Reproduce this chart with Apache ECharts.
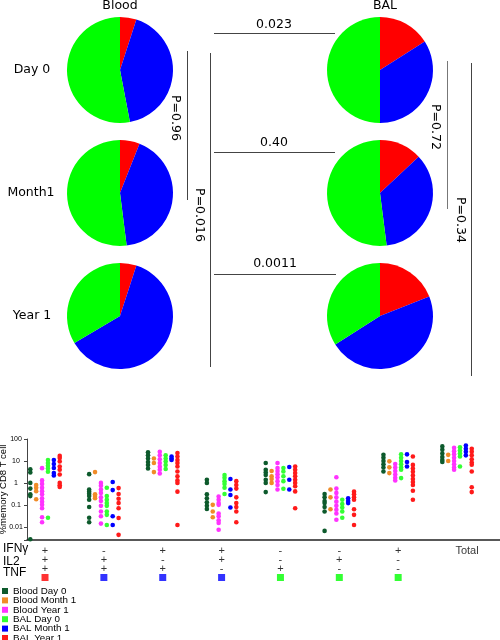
<!DOCTYPE html>
<html><head><meta charset="utf-8">
<script src="https://cdn.jsdelivr.net/npm/echarts@6/dist/echarts.min.js"></script>
<style>html,body{margin:0;padding:0;background:#fff}#c{width:500px;height:640px}</style>
</head><body><div id="c"></div>
<script>
// ---------- DATA ----------
// Pie slices: [3 functions (red), 2 functions (blue), 1 function (green)]
const sliceNames = ['3 functions', '2 functions', '1 function'];
const pieBloodDay0   = [5, 42, 53];
const pieBloodMonth1 = [6, 42, 52];
const pieBloodYear1  = [5, 61.5, 33.5];
const pieBALDay0     = [16, 34, 50];
const pieBALMonth1   = [13, 35, 52];
const pieBALYear1    = [19, 47, 34];
const columnTitles = ['Blood', 'BAL'];
const rowTitles = ['Day 0', 'Month1', 'Year 1'];
const pBetween = ['0.023', '0.40', '0.0011'];
const pBlood = ['P=0.96', 'P=0.016'];
const pBAL = ['P=0.72', 'P=0.34'];

// Scatter: categories (cytokine combos) + Total
const groupNames = ['IFNγ+IL2+TNF+', 'IFNγ-IL2+TNF+', 'IFNγ+IL2-TNF+', 'IFNγ+IL2+TNF-',
                    'IFNγ-IL2-TNF+', 'IFNγ-IL2+TNF-', 'IFNγ+IL2-TNF-', 'Total'];
const ifng = ['+', '-', '+', '+', '-', '-', '+'];
const il2  = ['+', '+', '-', '+', '-', '+', '-'];
const tnf  = ['+', '+', '+', '-', '+', '-', '-'];
const nFunctions = [3, 2, 2, 2, 1, 1, 1];
const rowNames = ['IFNγ', 'IL2', 'TNF', ''];
const yTickLabels = ['0.01', '0.1', '1', '10', '100'];
const seriesNames = ['Blood Day 0', 'Blood Month 1', 'Blood Year 1', 'BAL Day 0', 'BAL Month 1', 'BAL Year 1'];

const bloodDay0 = [
  [4.2, 3.0, 1.0, 0.55, 0.3, 0.25, 0.0027],
  [2.5, 0.5, 0.4, 0.32, 0.25, 0.17, 0.08, 0.026, 0.016],
  [25, 18, 13, 9, 6.5, 4.5],
  [1.4, 1.0, 0.3, 0.2, 0.13, 0.09, 0.065],
  [8, 4, 3, 2.3, 1.4, 1.0, 0.38],
  [0.31, 0.22, 0.15, 0.12, 0.08, 0.05, 0.0065],
  [19, 14, 10, 7, 5, 3.3],
  [46, 32, 22, 15, 11, 8.9]
];
const bloodMonth1 = [
  [0.8, 0.6, 0.42, 0.18],
  [3.1, 0.3, 0.25, 0.2],
  [13, 8, 3.1],
  [0.1, 0.05, 0.027],
  [3.5, 2.0, 1.5, 1.0],
  [0.5, 0.22, 0.063],
  [9.6, 5.1, 2.8],
  [19, 10]
];
const bloodYear1 = [
  [4.7, 1.3, 0.9, 0.6, 0.42, 0.3, 0.2, 0.14, 0.1, 0.07, 0.027, 0.016],
  [1.0, 0.75, 0.5, 0.35, 0.22, 0.15, 0.09, 0.05, 0.03, 0.014],
  [26, 18, 12, 8, 5.5, 4, 2.7],
  [0.24, 0.17, 0.12, 0.1, 0.04, 0.03, 0.02, 0.015, 0.0073],
  [8, 4.8, 3.5, 2.5, 1.8, 1.2, 0.8, 0.5],
  [1.8, 0.55, 0.35, 0.22, 0.14, 0.09, 0.06, 0.04, 0.021],
  [7.3, 5, 3.5, 2.4, 1.7, 1.3],
  [40, 28, 20, 14, 10, 7, 5, 4]
];
const balDay0 = [
  [11, 8, 6, 4.5, 3.2, 0.026],
  [0.6, 0.25, 0.17, 0.12, 0.09, 0.05, 0.035, 0.012],
  [18, 13, 9.5, 6.5, 4.3],
  [2.3, 1.7, 1.2, 0.9, 0.6, 0.31],
  [4.8, 3.3, 2, 1.2, 0.54],
  [0.17, 0.11, 0.075, 0.05, 0.026],
  [20, 14, 10, 7, 5, 4, 1.65],
  [42, 30, 22, 16, 5.6]
];
const balMonth1 = [
  [11, 7.3, 4.8, 2.8, 2.2],
  [1.1, 0.47, 0.03, 0.012],
  [16, 13, 11],
  [1.5, 0.5, 0.28, 0.076],
  [5.3, 1.4, 0.5],
  [0.2, 0.15, 0.12],
  [20, 9, 5.6],
  [50, 36, 26, 18]
];
const balYear1 = [
  [17, 13.5, 9.5, 5.6, 4, 2.4, 1.0, 0.78, 0.65],
  [0.58, 0.31, 0.19, 0.12, 0.07, 0.025, 0.0043],
  [23, 16, 11, 8, 5.6, 3.3, 2, 1.3, 1.0, 0.4, 0.012],
  [1.2, 0.8, 0.55, 0.22, 0.12, 0.08, 0.05, 0.016],
  [5.6, 4, 2.8, 2, 1.4, 1, 0.7, 0.41, 0.07],
  [0.4, 0.3, 0.22, 0.17, 0.063, 0.035, 0.012],
  [16, 6.6, 4.5, 3.2, 2.2, 1.5, 1.1, 0.8, 0.44, 0.17],
  [36, 26, 18, 12, 8.5, 6.7, 3.3, 0.63, 0.38]
];

// ---------- STYLE ----------
const sliceColors = ['#ff0000', '#0000ff', '#00ff00'];
const funcColor = {3: '#ff0000', 2: '#0000ff', 1: '#00ff00'};
const seriesColors = ['#0d5a2c', '#f08c28', '#ff33ff', '#33ff33', '#0000ff', '#ff1a1a'];
const allSeries = [bloodDay0, bloodMonth1, bloodYear1, balDay0, balMonth1, balYear1];
const SANS = 'Liberation Sans, Arial, sans-serif';
const TOPF = 'DejaVu Sans, Verdana, sans-serif';

const chart = echarts.init(document.getElementById('c'), null, {renderer: 'canvas'});

function pie(vals, cx, cy) {
  return {
    type: 'pie', center: [cx, cy], radius: 53, startAngle: 90, clockwise: true,
    silent: true, label: {show: false}, labelLine: {show: false},
    itemStyle: {borderWidth: 0},
    data: vals.map((v, i) => ({name: sliceNames[i], value: v, itemStyle: {color: sliceColors[i]}}))
  };
}

const series = [];
allSeries.forEach((arr, s) => {
  const data = [];
  arr.forEach((vals, g) => vals.forEach(v => data.push([g + (s - 2.5) * 0.1, v])));
  series.push({
    name: seriesNames[s], type: 'scatter', xAxisIndex: 0, yAxisIndex: 0,
    symbol: 'circle', symbolSize: 4.6, itemStyle: {color: seriesColors[s], opacity: 1},
    data: data, silent: true
  });
});

// sign rows
const signData = [];
[ifng, il2, tnf].forEach((row, r) => row.forEach((sgn, g) => signData.push({name: sgn, value: [g, r]})));
signData.push({name: groupNames[7], value: [7, 0], label: {padding: [0, 0, 3, 20], fontSize: 11}});
series.push({
  type: 'scatter', xAxisIndex: 1, yAxisIndex: 1, symbolSize: 1, itemStyle: {color: 'rgba(0,0,0,0)'}, silent: true,
  label: {show: true, position: 'inside', formatter: '{b}', color: '#000', fontSize: 11, fontFamily: SANS},
  labelLayout: {hideOverlap: false},
  data: signData
});
series.push({
  type: 'scatter', xAxisIndex: 1, yAxisIndex: 1, symbol: 'rect', symbolSize: 7, silent: true,
  data: nFunctions.map((n, g) => ({value: [g, 3], itemStyle: {color: funcColor[n]}}))
});

// pies
series.push(pie(pieBloodDay0, 120, 70), pie(pieBloodMonth1, 120, 193), pie(pieBloodYear1, 120, 316));
series.push(pie(pieBALDay0, 380, 70), pie(pieBALMonth1, 380, 193), pie(pieBALYear1, 380, 316));

function txt(t, x, y, size, rot, font) {
  return {type: 'text', x: x, y: y, rotation: rot || 0, silent: true,
    style: {text: t, font: size + 'px ' + (font || TOPF), fill: '#000',
      textAlign: 'center', textVerticalAlign: 'middle', align: 'center', verticalAlign: 'middle'}};
}
function line(x1, y1, x2, y2, c) {
  return {type: 'line', silent: true, shape: {x1: x1, y1: y1, x2: x2, y2: y2},
    style: {stroke: c || '#444', lineWidth: 1}};
}
const R = -Math.PI / 2;
const graphic = [
  txt(columnTitles[0], 120, 6, 12.5), txt(columnTitles[1], 385, 6, 12.5),
  txt(rowTitles[0], 32, 70, 12.5), txt(rowTitles[1], 31, 193, 12.5), txt(rowTitles[2], 32, 316, 12.5),
  line(214, 33.5, 335, 33.5), txt(pBetween[0], 274, 25, 12.5),
  line(214, 152.5, 335, 152.5), txt(pBetween[1], 274, 143, 12.5),
  line(214, 274.5, 336, 274.5), txt(pBetween[2], 275, 264, 12.5),
  line(187.5, 51, 187.5, 200), txt(pBlood[0], 175, 118, 12.5, R),
  line(210.5, 53, 210.5, 367), txt(pBlood[1], 199, 215, 12.5, R),
  line(447.5, 61, 447.5, 209, '#777'), txt(pBAL[0], 435, 127, 12.5, R),
  line(471.5, 63, 471.5, 376), txt(pBAL[1], 460, 220, 12.5, R)
];

chart.setOption({
  animation: false,
  backgroundColor: '#fff',
  textStyle: {fontFamily: SANS},
  grid: [
    {left: 27, right: 0, top: 439, height: 101, outerBoundsMode: 'none', containLabel: false},
    {left: 27, right: 0, top: 546, height: 36, outerBoundsMode: 'none', containLabel: false}
  ],
  xAxis: [
    {type: 'value', gridIndex: 0, min: -0.306, max: 7.73,
      axisLine: {show: true, onZero: false, lineStyle: {color: '#222', width: 1.5}},
      axisTick: {show: false}, axisLabel: {show: false}, splitLine: {show: false}},
    {type: 'value', gridIndex: 1, min: -0.306, max: 7.73, show: false}
  ],
  yAxis: [
    {type: 'log', logBase: 10, gridIndex: 0, min: 0.0025, max: 100, position: 'left', offset: 0,
      name: '%memory CD8 T cell', nameLocation: 'middle', nameGap: 19, nameRotate: 90, nameMoveOverlap: false,
      nameTextStyle: {fontSize: 9.5, color: '#000', fontFamily: SANS},
      axisLine: {show: true, onZero: false, lineStyle: {color: '#444', width: 1}},
      axisTick: {show: true, length: 3, lineStyle: {color: '#444'}},
      axisLabel: {fontSize: 7, color: '#000', align: 'center', margin: 11, fontFamily: SANS,
        showMinLabel: true,
        formatter: v => { const lg = Math.log10(v); const r = Math.round(lg);
          return Math.abs(lg - r) < 1e-6 ? (yTickLabels[r + 2] || '') : ''; }},
      splitLine: {show: false}},
    {type: 'category', gridIndex: 1, data: rowNames, inverse: true,
      axisLine: {show: false, onZero: false}, axisTick: {show: false},
      axisLabel: {interval: 0, hideOverlap: false, align: 'left', margin: 24, fontSize: 12, color: '#000', fontFamily: SANS,
        formatter: (v, i) => '{r' + i + '|' + v + '}',
        rich: {r0: {padding: [0, 0, 3, 0]}, r1: {padding: [5, 0, 0, 0]}, r2: {padding: [9, 0, 0, 0]}, r3: {}}}}
  ],
  legend: {
    data: seriesNames, orient: 'vertical', left: 2, top: 586, height: 70, padding: 0,
    icon: 'rect', itemWidth: 6, itemHeight: 6, itemGap: -0.6,
    textStyle: {fontSize: 9.8, color: '#000', fontFamily: SANS, lineHeight: 9},
    selectedMode: false
  },
  graphic: graphic,
  series: series
});
</script></body></html>
